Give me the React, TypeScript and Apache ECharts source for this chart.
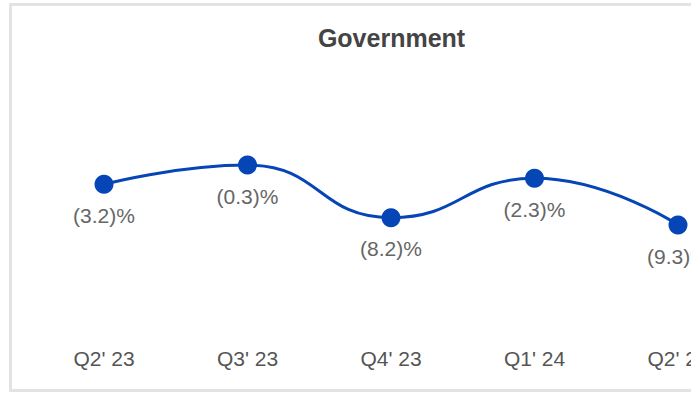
import React, { useEffect, useRef } from "react";
import * as echarts from "echarts";

const categories = ["Q2' 23", "Q3' 23", "Q4' 23", "Q1' 24", "Q2' 24"];
const governmentValues = [-3.2, -0.3, -8.2, -2.3, -9.3];
const chartTitle = "Government";

const fmt = (v: number) => (v < 0 ? `(${Math.abs(v).toFixed(1)})%` : `${v.toFixed(1)}%`);

export default function App() {
  const ref = useRef<HTMLDivElement>(null);
  useEffect(() => {
    if (!ref.current) return;
    const chart = echarts.init(ref.current, undefined, { renderer: "svg" });
    chart.setOption({
      animation: false,
      backgroundColor: "#ffffff",
      textStyle: { fontFamily: "Liberation Sans, Arial, sans-serif" },
      title: {
        text: chartTitle,
        left: "center",
        top: 14,
        textStyle: { fontSize: 25, fontWeight: "bold", color: "#444444", fontFamily: "Liberation Sans, Arial, sans-serif" },
      },
      grid: { left: 20.25, right: 21.25, top: 157, bottom: 383 - 157 - 166.7, containLabel: false },
      xAxis: {
        type: "category",
        data: categories,
        boundaryGap: true,
        axisLine: { show: false },
        axisTick: { show: false },
        splitLine: { show: false },
        axisLabel: { color: "#555555", fontSize: 21, margin: 18, fontFamily: "Liberation Sans, Arial, sans-serif" },
      },
      yAxis: {
        type: "value",
        min: -25,
        max: 0,
        show: false,
        splitLine: { show: false },
      },
      series: [
        {
          type: "line",
          data: governmentValues,
          smooth: true,
          symbol: "circle",
          symbolSize: 19,
          lineStyle: { color: "#0645B6", width: 3 },
          itemStyle: { color: "#0645B6" },
          label: {
            show: true,
            position: "bottom",
            distance: 11,
            fontSize: 21,
            color: "#666666",
            fontFamily: "Liberation Sans, Arial, sans-serif",
            formatter: (p: any) => fmt(p.value),
          },
        },
      ],
    });
    return () => chart.dispose();
  }, []);
  return (
    <div style={{ position: "fixed", left: 0, top: 0, width: 691, height: 394, overflow: "hidden", background: "#fff" }}>
      <div
        style={{
          position: "absolute",
          left: 9,
          top: 3,
          border: "3px solid #e3e3e3",
          width: 759,
          height: 383,
        }}
      >
        <div ref={ref} style={{ width: 759, height: 383 }} />
      </div>
    </div>
  );
}
